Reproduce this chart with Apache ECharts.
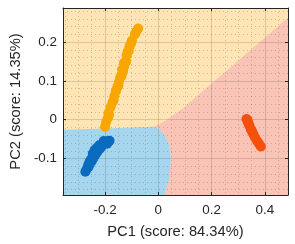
<!DOCTYPE html>
<html>
<head>
<meta charset="utf-8">
<script src="https://cdn.jsdelivr.net/npm/echarts@6/dist/echarts.min.js"></script>
<style>
html,body{margin:0;padding:0;background:#fff;}
#chart{width:295px;height:244px;}
</style>
</head>
<body>
<div id="chart"></div>
<script>
// Axis ranges and tick labels
var xRange = [-0.358, 0.487];
var yRange = [-0.194, 0.288];
var xTicks = [-0.2, 0, 0.2, 0.4];
var yTicks = [-0.1, 0, 0.1, 0.2];
var xLabel = 'PC1 (score: 84.34%)';
var yLabel = 'PC2 (score: 14.35%)';

// Scores (PC1, PC2) per class
var classA = [ // orange
  [-0.200,-0.018],[-0.196,-0.006],[-0.190,0.004],[-0.185,0.012],[-0.187,0.017],[-0.179,0.033],
  [-0.172,0.045],[-0.168,0.050],[-0.165,0.061],[-0.159,0.074],[-0.154,0.084],[-0.150,0.088],[-0.148,0.097],
  [-0.143,0.109],[-0.139,0.112],[-0.137,0.117],[-0.132,0.127],[-0.136,0.130],[-0.128,0.138],[-0.125,0.148],
  [-0.129,0.146],[-0.121,0.150],
  [-0.119,0.166],[-0.115,0.176],[-0.111,0.178],[-0.108,0.189],[-0.103,0.196],[-0.099,0.204],[-0.088,0.220],
  [-0.082,0.228],[-0.076,0.235]
];
var classB = [ // blue
  [-0.274,-0.134],[-0.268,-0.126],[-0.263,-0.116],[-0.258,-0.108],[-0.252,-0.101],
  [-0.245,-0.093],[-0.238,-0.085],[-0.232,-0.079],[-0.225,-0.073],[-0.217,-0.067],
  [-0.210,-0.064],[-0.203,-0.060],[-0.196,-0.057],[-0.188,-0.055],[-0.183,-0.054],
  [-0.262,-0.122],[-0.257,-0.114],[-0.250,-0.107],[-0.244,-0.099],[-0.236,-0.090],
  [-0.229,-0.083],[-0.221,-0.076],[-0.214,-0.070],[-0.246,-0.087],[-0.239,-0.078],
  [-0.230,-0.072],[-0.222,-0.066],[-0.205,-0.055],[-0.192,-0.062]
];
var classC = [ // red
  [0.331,0.002],[0.335,-0.001],[0.336,-0.006],[0.342,-0.015],[0.339,-0.010],[0.347,-0.024],[0.353,-0.032],
  [0.350,-0.027],[0.358,-0.039],[0.364,-0.047],[0.371,-0.055],[0.378,-0.062],[0.385,-0.069]
];

// Decision-region boundaries (data coordinates)
var regionYellow = [[-0.358,-0.194],[0.487,-0.194],[0.487,0.288],[-0.358,0.288]];
var regionPink = [[-0.0153,-0.018],[0.0284,-0.002],[0.094,0.030],[0.487,0.2626],
  [0.487,-0.194],[0.023,-0.194],[0.041,-0.152],[0.047,-0.114],[0.046,-0.088],
  [0.039,-0.062],[0.021,-0.037],[0.003,-0.024]];
var regionBlue = [[-0.358,-0.0256],[-0.197,-0.0226],[-0.052,-0.019],[-0.0153,-0.018],
  [0.003,-0.024],[0.021,-0.037],[0.039,-0.062],[0.046,-0.088],[0.047,-0.114],
  [0.041,-0.152],[0.023,-0.194],[-0.358,-0.194]];

var regions = [regionYellow, regionPink, regionBlue];
var regionColors = ['#FFE5B4', '#F9C3B5', '#A5D6EE'];
var pointColors = ['#F8A602', '#0A6BBE', '#F5500C'];

var FONT = "'Liberation Sans', Arial, Helvetica, sans-serif";
var AX = '#262626';

function fmt(ticks){
  return function(v){
    for (var i=0;i<ticks.length;i++){ if (Math.abs(v-ticks[i])<1e-9) return String(ticks[i]); }
    return '';
  };
}

var chart = echarts.init(document.getElementById('chart'), null, {renderer:'canvas'});
var minorStyle = {color:'rgba(70,70,70,0.26)', width:1, type:[1,3]};
var option = {
  animation: false,
  backgroundColor: '#ffffff',
  grid: {left:56, right:7, top:8, bottom:47.5, containLabel:false},
  xAxis: [{
    type:'value', min:xRange[0], max:xRange[1], splitNumber:5, minInterval:0.2, maxInterval:0.2,
    position:'bottom',
    name:xLabel, nameLocation:'middle', nameGap:29,
    nameTextStyle:{fontFamily:FONT, fontSize:14.7, color:AX},
    axisLine:{onZero:false, lineStyle:{color:AX, width:1}},
    axisTick:{inside:true, length:3, lineStyle:{color:AX}},
    axisLabel:{fontFamily:FONT, fontSize:13.4, color:AX, margin:9, showMinLabel:false, showMaxLabel:false, formatter:fmt(xTicks)},
    splitLine:{show:true, lineStyle:{color:'rgba(38,38,38,0.16)', width:1}},
    minorTick:{show:false, splitNumber:4},
    minorSplitLine:{show:true, lineStyle:minorStyle}
  },{
    type:'value', min:xRange[0], max:xRange[1], splitNumber:5, minInterval:0.2, maxInterval:0.2,
    position:'top',
    axisLine:{onZero:false, lineStyle:{color:AX, width:1}},
    axisTick:{inside:true, length:3, lineStyle:{color:AX}},
    axisLabel:{show:false},
    splitLine:{show:false}
  }],
  yAxis: [{
    type:'value', min:yRange[0], max:yRange[1], splitNumber:5, minInterval:0.1, maxInterval:0.1,
    position:'left',
    name:yLabel, nameLocation:'middle', nameGap:37, nameRotate:90,
    nameTextStyle:{fontFamily:FONT, fontSize:14.7, color:AX},
    axisLine:{onZero:false, lineStyle:{color:AX, width:1}},
    axisTick:{inside:true, length:3, lineStyle:{color:AX}},
    axisLabel:{fontFamily:FONT, fontSize:13.4, color:AX, margin:6, showMinLabel:false, showMaxLabel:false, formatter:fmt(yTicks)},
    splitLine:{show:true, lineStyle:{color:'rgba(38,38,38,0.16)', width:1}},
    minorTick:{show:false, splitNumber:5},
    minorSplitLine:{show:true, lineStyle:minorStyle}
  },{
    type:'value', min:yRange[0], max:yRange[1], splitNumber:5, minInterval:0.1, maxInterval:0.1,
    position:'right',
    axisLine:{onZero:false, lineStyle:{color:AX, width:1}},
    axisTick:{inside:true, length:3, lineStyle:{color:AX}},
    axisLabel:{show:false},
    splitLine:{show:false}
  }],
  series: [
    {
      type:'custom', z:-5, silent:true,
      xAxisIndex:0, yAxisIndex:0,
      data: regions.map(function(r, i){ return [i]; }),
      renderItem: function(params, api){
        var poly = regions[params.dataIndex].map(function(p){ return api.coord(p); });
        return {type:'polygon', shape:{points:poly}, style:{fill:regionColors[params.dataIndex], stroke:null}};
      }
    },
    {type:'scatter', data:classA, symbol:'circle', symbolSize:10, itemStyle:{color:pointColors[0], opacity:1}, z:3},
    {type:'scatter', data:classB, symbol:'circle', symbolSize:10, itemStyle:{color:pointColors[1], opacity:1}, z:3},
    {type:'scatter', data:classC, symbol:'circle', symbolSize:10, itemStyle:{color:pointColors[2], opacity:1}, z:3}
  ]
};
chart.setOption(option);
</script>
</body>
</html>
